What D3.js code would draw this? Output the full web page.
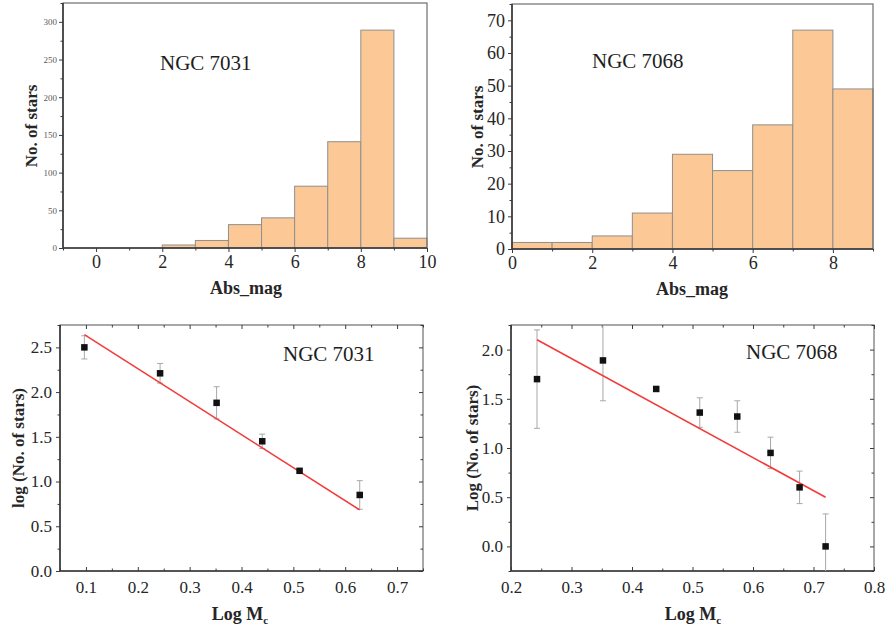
<!DOCTYPE html>
<html>
<head>
<meta charset="utf-8">
<script src="https://cdn.jsdelivr.net/npm/d3@7"></script>
<style>
  html, body { margin: 0; padding: 0; background: #fff; }
  svg { display: block; }
  svg text { font-family: 'Liberation Serif', 'Times New Roman', serif; }
</style>
</head>
<body>
<svg id="fig" width="887" height="631"></svg>
<script>
// ---- Histogram data: absolute magnitude bins (1 mag wide) ----
const binStart7031 = [0, 1, 2, 3, 4, 5, 6, 7, 8, 9];
const counts7031   = [0, 0, 4, 10, 31, 40, 82, 141, 289, 13];

const binStart7068 = [0, 1, 2, 3, 4, 5, 6, 7, 8];
const counts7068   = [2, 2, 4, 11, 29, 24, 38, 67, 49];

// ---- Mass function data: log M_c vs log N with errors ----
const logM7031 = [0.097, 0.243, 0.352, 0.440, 0.512, 0.628];
const logN7031 = [2.50, 2.21, 1.88, 1.45, 1.12, 0.85];
const err7031  = [0.13, 0.11, 0.18, 0.08, 0.02, 0.16];
const fit7031  = { slope: -3.69, intercept: 3.00, from: 0.097, to: 0.628 };

const logM7068 = [0.243, 0.352, 0.440, 0.512, 0.574, 0.629, 0.677, 0.720];
const logN7068 = [1.70, 1.89, 1.60, 1.36, 1.32, 0.95, 0.60, 0.00];
const err7068  = [0.50, 0.41, 0.02, 0.15, 0.16, 0.16, 0.165, 0.33];
const fit7068  = { slope: -3.354, intercept: 2.915, from: 0.243, to: 0.720 };

// ---- Tick values ----
const ticksX7031h = [0, 2, 4, 6, 8, 10];
const ticksY7031h = [0, 50, 100, 150, 200, 250, 300];
const ticksX7068h = [0, 2, 4, 6, 8];
const ticksY7068h = [0, 10, 20, 30, 40, 50, 60, 70];
const ticksX7031m = [0.1, 0.2, 0.3, 0.4, 0.5, 0.6, 0.7];
const ticksY7031m = [0.0, 0.5, 1.0, 1.5, 2.0, 2.5];
const ticksX7068m = [0.2, 0.3, 0.4, 0.5, 0.6, 0.7, 0.8];
const ticksY7068m = [0.0, 0.5, 1.0, 1.5, 2.0];

const SERIF = "'Liberation Serif', 'Times New Roman', serif";
const svg = d3.select("#fig");
const BAR_FILL = "#fcc896";
const BAR_STROKE = "#8f8f8f";
const AXIS = "#3a3a3a";
const FRAME = "#6e6e6e";
const TEXT = "#262626";

function range(a, b, step) {
  const out = [];
  for (let v = a; v <= b + 1e-9; v += step) out.push(+v.toFixed(4));
  return out;
}

function styleAxis(g, fontSize, color) {
  g.attr("font-family", SERIF);
  g.select(".domain").remove();
  g.selectAll(".tick line").attr("stroke", AXIS).attr("stroke-width", 1);
  g.selectAll(".tick text")
    .style("font-family", SERIF)
    .attr("font-size", fontSize)
    .attr("fill", color || TEXT);
}

// Draws the frame, axes with major/minor ticks, and axis titles for one panel
function panelFrame(p) {
  const g = svg.append("g");
  const [x0, x1] = p.x.range();
  const [y0, y1] = p.y.range(); // y0 = bottom, y1 = top

  // outer box
  g.append("rect")
    .attr("x", x0).attr("y", y1)
    .attr("width", x1 - x0).attr("height", y0 - y1)
    .attr("fill", "none").attr("stroke", FRAME).attr("stroke-width", 1.2);

  const xIn = p.xTickInward ? -1 : 1;

  // bottom axis (major)
  const gx = g.append("g").attr("transform", `translate(0,${y0})`)
    .call(d3.axisBottom(p.x).tickValues(p.xTicks).tickSize(xIn * 4)
      .tickPadding(p.xPad).tickFormat(p.xFmt || d3.format("")));
  styleAxis(gx, p.xFont);
  // bottom axis (minor)
  const gxm = g.append("g").attr("transform", `translate(0,${y0})`)
    .call(d3.axisBottom(p.x).tickValues(p.xMinor).tickSize(xIn * 2.5).tickFormat(""));
  styleAxis(gxm, p.xFont);

  // left axis (major)
  const gy = g.append("g").attr("transform", `translate(${x0},0)`)
    .call(d3.axisLeft(p.y).tickValues(p.yTicks).tickSize(4)
      .tickPadding(p.yPad).tickFormat(p.yFmt || d3.format("")));
  styleAxis(gy, p.yFont, p.yColor);
  const gym = g.append("g").attr("transform", `translate(${x0},0)`)
    .call(d3.axisLeft(p.y).tickValues(p.yMinor).tickSize(2.5).tickFormat(""));
  styleAxis(gym, p.yFont);

  if (p.mirror) {
    // top & right ticks pointing inward
    const gt = g.append("g").attr("transform", `translate(0,${y1})`)
      .call(d3.axisTop(p.x).tickValues(p.xTicks).tickSize(-4).tickFormat(""));
    styleAxis(gt, 10);
    const gtm = g.append("g").attr("transform", `translate(0,${y1})`)
      .call(d3.axisTop(p.x).tickValues(p.xMinor).tickSize(-2.5).tickFormat(""));
    styleAxis(gtm, 10);
    const gr = g.append("g").attr("transform", `translate(${x1},0)`)
      .call(d3.axisRight(p.y).tickValues(p.yTicks).tickSize(-4).tickFormat(""));
    styleAxis(gr, 10);
    const grm = g.append("g").attr("transform", `translate(${x1},0)`)
      .call(d3.axisRight(p.y).tickValues(p.yMinor).tickSize(-2.5).tickFormat(""));
    styleAxis(grm, 10);
  }

  // bottom & left axis lines
  g.append("line").attr("x1", x0).attr("x2", x1).attr("y1", y0).attr("y2", y0)
    .attr("stroke", AXIS).attr("stroke-width", 1.6);
  g.append("line").attr("x1", x0).attr("x2", x0).attr("y1", y0).attr("y2", y1)
    .attr("stroke", AXIS).attr("stroke-width", 1.6);

  // x title
  const xt = g.append("text")
    .attr("x", p.xTitlePos[0]).attr("y", p.xTitlePos[1])
    .attr("text-anchor", "middle").attr("font-weight", "bold")
    .style("font-family", SERIF)
    .attr("font-size", 18).attr("fill", TEXT);
  xt.append("tspan").text(p.xTitle);
  if (p.xTitleSub) {
    xt.append("tspan").attr("font-size", 11).attr("dy", 4).text(p.xTitleSub);
  }

  // y title
  g.append("text")
    .attr("transform", `translate(${p.yTitlePos[0]},${p.yTitlePos[1]}) rotate(-90)`)
    .attr("text-anchor", "middle").attr("dy", "0.35em")
    .style("font-family", SERIF)
    .attr("font-weight", "bold").attr("font-size", 17).attr("fill", TEXT)
    .text(p.yTitle);

  // cluster name
  g.append("text")
    .attr("x", p.namePos[0]).attr("y", p.namePos[1])
    .style("font-family", SERIF)
    .attr("font-size", 21).attr("fill", "#1e1e1e")
    .text(p.name);

  return g;
}

function drawHistogram(p, starts, counts) {
  const g = panelFrame(p);
  const bars = g.insert("g", ":first-child");
  bars.selectAll("rect")
    .data(starts.map((s, i) => ({ s, c: counts[i] })))
    .join("rect")
    .attr("x", d => p.x(d.s))
    .attr("width", d => p.x(d.s + 1) - p.x(d.s))
    .attr("y", d => p.y(d.c))
    .attr("height", d => p.y(0) - p.y(d.c))
    .attr("fill", BAR_FILL)
    .attr("stroke", BAR_STROKE)
    .attr("stroke-width", 1);
}

function drawMassFunction(p, xs, ys, errs, fit) {
  const g = panelFrame(p);
  const [x0, x1] = p.x.range();
  const [yb, yt] = p.y.range();
  const clipId = "clip" + Math.round(x0);
  svg.append("clipPath").attr("id", clipId)
    .append("rect").attr("x", x0).attr("y", yt).attr("width", x1 - x0).attr("height", yb - yt);

  const data = xs.map((x, i) => ({ x, y: ys[i], e: errs[i] }));
  const eg = g.append("g").attr("clip-path", `url(#${clipId})`)
    .attr("stroke", "#a8a8a8").attr("stroke-width", 1);
  eg.selectAll("line.v").data(data).join("line").attr("class", "v")
    .attr("x1", d => p.x(d.x)).attr("x2", d => p.x(d.x))
    .attr("y1", d => p.y(d.y - d.e)).attr("y2", d => p.y(d.y + d.e));
  eg.selectAll("line.cu").data(data).join("line").attr("class", "cu")
    .attr("x1", d => p.x(d.x) - 3).attr("x2", d => p.x(d.x) + 3)
    .attr("y1", d => p.y(d.y + d.e)).attr("y2", d => p.y(d.y + d.e));
  eg.selectAll("line.cl").data(data).join("line").attr("class", "cl")
    .attr("x1", d => p.x(d.x) - 3).attr("x2", d => p.x(d.x) + 3)
    .attr("y1", d => p.y(d.y - d.e)).attr("y2", d => p.y(d.y - d.e));

  // linear fit
  g.append("line")
    .attr("x1", p.x(fit.from)).attr("y1", p.y(fit.intercept + fit.slope * fit.from))
    .attr("x2", p.x(fit.to)).attr("y2", p.y(fit.intercept + fit.slope * fit.to))
    .attr("stroke", "#f23c3c").attr("stroke-width", 1.6);

  // markers
  const s = 6.5;
  g.append("g").selectAll("rect").data(data).join("rect")
    .attr("x", d => p.x(d.x) - s / 2).attr("y", d => p.y(d.y) - s / 2)
    .attr("width", s).attr("height", s).attr("fill", "#111");
}

// ---- Top-left: NGC 7031 luminosity histogram ----
drawHistogram({
  x: d3.scaleLinear().domain([-1, 10]).range([63, 427]),
  y: d3.scaleLinear().domain([0, 325]).range([248, 3]),
  xTicks: ticksX7031h, xMinor: range(-1, 9, 2),
  yTicks: ticksY7031h, yMinor: range(25, 325, 50),
  xFont: 18, yFont: 9, yColor: "#5a5a5a", xPad: 3, yPad: 2,
  xTitle: "Abs_mag", xTitlePos: [246, 294],
  yTitle: "No. of stars", yTitlePos: [31, 126],
  name: "NGC 7031", namePos: [160, 70]
}, binStart7031, counts7031);

// ---- Top-right: NGC 7068 luminosity histogram ----
drawHistogram({
  x: d3.scaleLinear().domain([0, 9]).range([512, 873]),
  y: d3.scaleLinear().domain([0, 75]).range([249, 4]),
  xTicks: ticksX7068h, xMinor: range(1, 9, 2),
  yTicks: ticksY7068h, yMinor: range(5, 75, 10),
  xFont: 18, yFont: 18, xPad: 3, yPad: 3,
  xTitle: "Abs_mag", xTitlePos: [692, 295],
  yTitle: "No. of stars", yTitlePos: [477, 127],
  name: "NGC 7068", namePos: [592, 68]
}, binStart7068, counts7068);

// ---- Bottom-left: NGC 7031 mass function ----
drawMassFunction({
  x: d3.scaleLinear().domain([0.05, 0.75]).range([60, 423]),
  y: d3.scaleLinear().domain([0, 2.75]).range([571, 325]),
  xTicks: ticksX7031m, xMinor: range(0.05, 0.75, 0.1),
  yTicks: ticksY7031m, yMinor: range(0.25, 2.75, 0.5),
  xTickInward: true, mirror: true,
  xFmt: d3.format(".1f"), yFmt: d3.format(".1f"),
  xFont: 17, yFont: 17, xPad: 10, yPad: 4,
  xTitle: "Log M", xTitleSub: "c", xTitlePos: [240, 620],
  yTitle: "log (No. of stars)", yTitlePos: [18, 448],
  name: "NGC 7031", namePos: [283, 361]
}, logM7031, logN7031, err7031, fit7031);

// ---- Bottom-right: NGC 7068 mass function ----
drawMassFunction({
  x: d3.scaleLinear().domain([0.2, 0.8]).range([511, 874]),
  y: d3.scaleLinear().domain([-0.25, 2.25]).range([571, 325]),
  xTicks: ticksX7068m, xMinor: range(0.25, 0.75, 0.1),
  yTicks: ticksY7068m, yMinor: range(-0.25, 2.25, 0.5),
  xTickInward: true, mirror: true,
  xFmt: d3.format(".1f"), yFmt: d3.format(".1f"),
  xFont: 17, yFont: 17, xPad: 10, yPad: 4,
  xTitle: "Log M", xTitleSub: "c", xTitlePos: [693, 620],
  yTitle: "Log (No. of stars)", yTitlePos: [472, 448],
  name: "NGC 7068", namePos: [746, 359]
}, logM7068, logN7068, err7068, fit7068);
</script>
</body>
</html>
